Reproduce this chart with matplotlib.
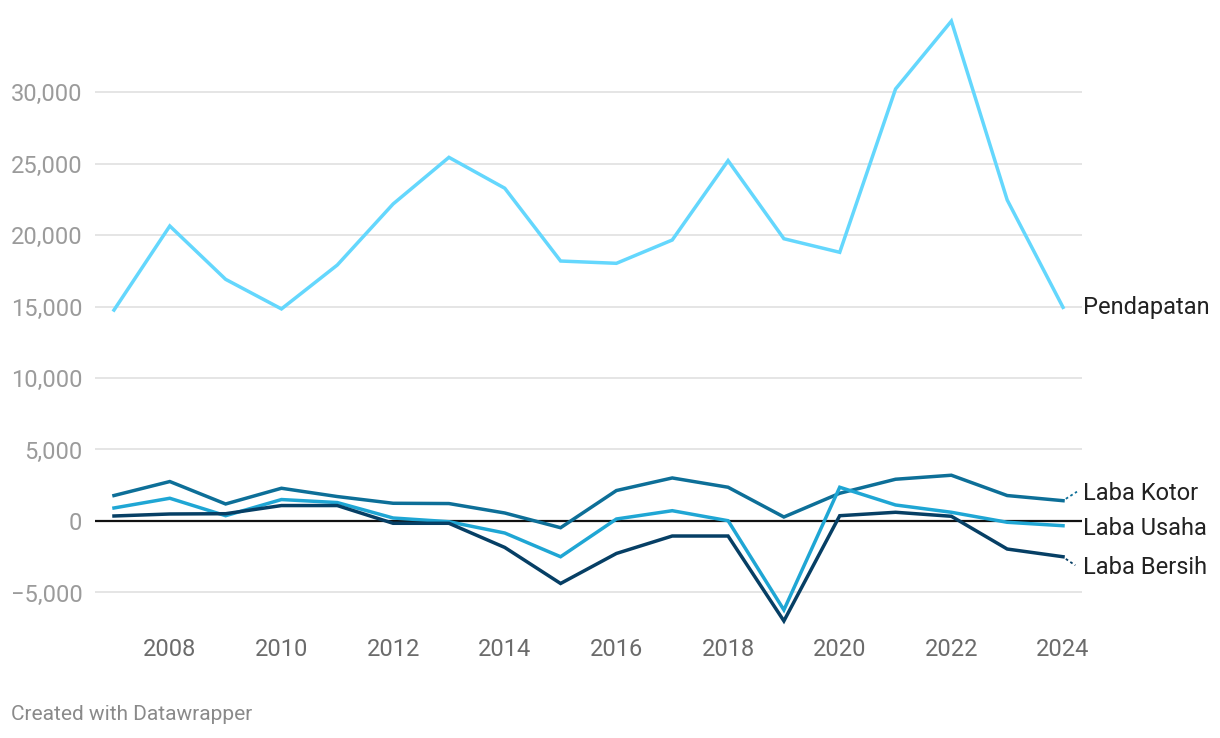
import matplotlib
matplotlib.use("Agg")
import matplotlib.pyplot as plt
import matplotlib.transforms as mtransforms
from matplotlib.ticker import FuncFormatter

plt.rcParams["font.family"] = ["Roboto", "DejaVu Sans"]

years = list(range(2007, 2025))
pendapatan = [14750, 20630, 16900, 14830, 17900, 22170, 25430, 23270, 18180, 18020,
              19650, 25200, 19740, 18790, 30210, 34960, 22450, 14940]
laba_kotor = [1780, 2760, 1190, 2290, 1710, 1240, 1220, 560, -470, 2130,
              3010, 2360, 280, 1940, 2920, 3200, 1780, 1420]
laba_usaha = [910, 1590, 370, 1500, 1290, 210, -50, -840, -2500, 140,
              720, 20, -6220, 2360, 1120, 610, -90, -330]
laba_bersih = [350, 490, 510, 1080, 1080, -160, -160, -1850, -4370, -2270,
               -1050, -1050, -6990, 370, 610, 330, -1960, -2500]

series_names = ["Pendapatan", "Laba Kotor", "Laba Usaha", "Laba Bersih"]
series_colors = ["#64d7fd", "#0d6f98", "#1fa6d4", "#063f65"]
label_y = [14900, 1950, -550, -3250]

fig = plt.figure(figsize=(12.2, 7.38), dpi=100)
ax = fig.add_axes([95 / 1220, 1 - 625 / 738, (1082 - 95) / 1220, 610 / 738])

yticks = [-5000, 0, 5000, 10000, 15000, 20000, 25000, 30000]
for t in yticks:
    if t != 0:
        ax.axhline(t, color="#e3e3e3", lw=1.3, zorder=0)
ax.axhline(0, color="#111111", lw=1.6, zorder=1)

data = [pendapatan, laba_kotor, laba_usaha, laba_bersih]
for vals, col in zip(data, series_colors):
    ax.plot(years, vals, color=col, lw=2.5, solid_joinstyle="miter", zorder=3)

ax.set_xlim(2006.66, 2024.34)
ax.set_ylim(-7273, 35385)
ax.set_yticks(yticks)
ax.set_xticks(list(range(2008, 2025, 2)))
ax.yaxis.set_major_formatter(FuncFormatter(
    lambda v, p: ("\u2212" if v < 0 else "") + f"{abs(int(v)):,}"))
ax.tick_params(axis="y", length=0, pad=9, labelsize=17, labelcolor="#9b9b9b")
ax.tick_params(axis="x", length=0, pad=9, labelsize=17, labelcolor="#6b6b6b")
for s in ax.spines.values():
    s.set_visible(False)

# labels at the right end of each line
trans = mtransforms.blended_transform_factory(ax.transAxes, ax.transData)
for name, ly in zip(series_names, label_y):
    ax.text(1.001, ly, name, transform=trans, fontsize=17, color="#222222",
            va="center", ha="left", clip_on=False)

# little dotted connectors
ax.plot([2024.05, 2024.25], [1550, 2050], color=series_colors[1], lw=1.3,
        ls=(0, (1.5, 1.5)), clip_on=False)
ax.plot([2024.05, 2024.22], [-2650, -3100], color=series_colors[3], lw=1.3,
        ls=(0, (1.5, 1.5)), clip_on=False)

fig.text(11 / 1220, 1 - 715 / 738, "Created with Datawrapper", fontsize=15,
         color="#8a8a8a", va="center", ha="left")

fig.savefig("out.png", dpi=100)
